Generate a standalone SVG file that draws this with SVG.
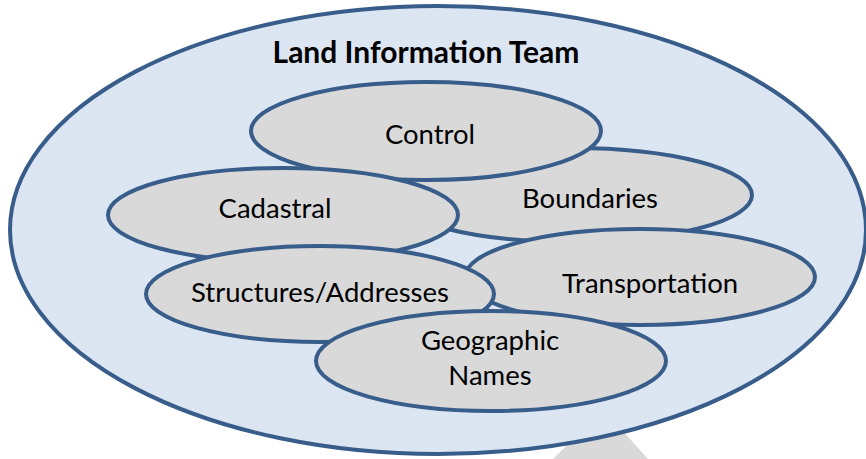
<svg xmlns="http://www.w3.org/2000/svg" width="866" height="459" viewBox="0 0 866 459">
<style>
.team{fill:#DCE6F2;stroke:#385D8A;stroke-width:4}
.node{fill:#D9D9D9;stroke:#385D8A;stroke-width:4}
.lbl{font-family:Lato,"Open Sans","Liberation Sans",sans-serif;font-size:27.5px;fill:#000;text-anchor:middle}
.title{font-family:Lato,"Open Sans","Liberation Sans",sans-serif;font-size:30px;font-weight:bold;fill:#000;text-anchor:middle}
</style>
<rect width="866" height="459" fill="#FFFFFF"/>
<polygon points="553,459 648,459 603,409" fill="#D9D9D9"/>
<g id="team">
<ellipse class="team" cx="438" cy="230" rx="428" ry="224"/>
<text class="title" x="426" y="63">Land Information Team</text>
</g>
<g id="boundaries">
<ellipse class="node" cx="572" cy="195" rx="180" ry="47"/>
<text class="lbl" x="590" y="208">Boundaries</text>
</g>
<g id="control">
<ellipse class="node" cx="426" cy="131" rx="175" ry="49"/>
<text class="lbl" x="430" y="144">Control</text>
</g>
<g id="cadastral">
<ellipse class="node" cx="283" cy="215" rx="175" ry="47"/>
<text class="lbl" x="275" y="218">Cadastral</text>
</g>
<g id="transportation">
<ellipse class="node" cx="640" cy="277" rx="175" ry="48"/>
<text class="lbl" x="650" y="293">Transportation</text>
</g>
<g id="structures">
<ellipse class="node" cx="320" cy="294" rx="174" ry="48"/>
<text class="lbl" x="320" y="302">Structures/Addresses</text>
</g>
<g id="geographic">
<ellipse class="node" cx="491" cy="361" rx="175" ry="50"/>
<text class="lbl" x="490" y="350">Geographic</text>
<text class="lbl" x="490" y="385">Names</text>
</g>
<g id="connectors"></g>
</svg>
